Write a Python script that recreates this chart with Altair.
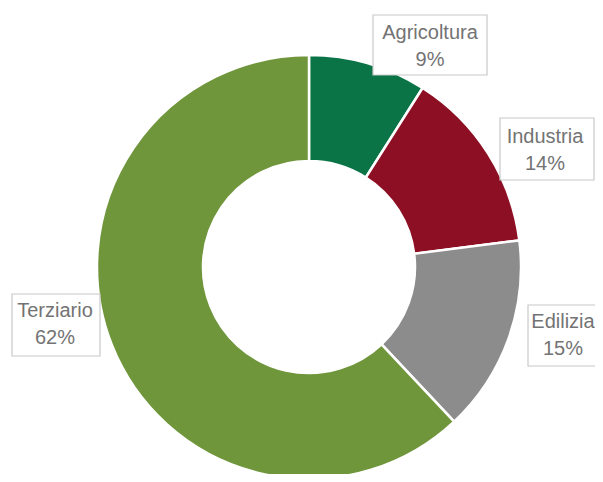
import altair as alt
import pandas as pd

# ---- data ----
sectors = ["Agricoltura", "Industria", "Edilizia", "Terziario"]
shares = [9, 14, 15, 62]
colors = ["#0b7446", "#8c0f23", "#8c8c8c", "#70963c"]

# ---- label annotation layout (chart pixel units) ----
label_x = [422, 537, 555, 47]
label_y = [25, 129, 314, 303]
box_x1 = [365, 492, 520, 4]
box_x2 = [479, 586, 600, 92]
box_y1 = [7, 110, 297, 286]
box_y2 = [67, 172, 358, 348]

W, H = 587, 466
CX, CY = 301, 259
R_OUT, R_IN = 212, 106

df = pd.DataFrame({"settore": sectors, "quota": shares, "ord": list(range(len(sectors)))})
df["label"] = [f"{s}\n{v}%" for s, v in zip(sectors, shares)]

lab = pd.DataFrame({
    "settore": sectors,
    "label": df["label"],
    "lx": label_x, "ly": label_y,
    "bx1": box_x1, "bx2": box_x2, "by1": box_y1, "by2": box_y2,
})

xs = alt.Scale(domain=[0, W], range=[0, W], nice=False, zero=False)
ys = alt.Scale(domain=[0, H], range=[0, H], nice=False, zero=False)

donut = alt.Chart(df).mark_arc(
    outerRadius=R_OUT, innerRadius=R_IN, stroke="white", strokeWidth=2.5
).encode(
    theta=alt.Theta("quota:Q", stack=True),
    color=alt.Color("settore:N", scale=alt.Scale(domain=sectors, range=colors), legend=None),
    order=alt.Order("ord:Q"),
    x=alt.value(CX),
    y=alt.value(CY),
)

boxes = alt.Chart(lab).mark_rect(
    fill="white", stroke="#c8c8c8", strokeWidth=1.2
).encode(
    x=alt.X("bx1:Q", scale=xs, axis=None),
    x2="bx2:Q",
    y=alt.Y("by1:Q", scale=ys, axis=None),
    y2="by2:Q",
)

texts = alt.Chart(lab).mark_text(
    font="Liberation Sans", fontSize=20, color="#737373",
    align="center", baseline="middle", lineBreak="\n", lineHeight=27,
).encode(
    x=alt.X("lx:Q", scale=xs, axis=None),
    y=alt.Y("ly:Q", scale=ys, axis=None),
    text="label:N",
)

chart = alt.layer(donut, boxes, texts).properties(
    width=W, height=H, padding=0, autosize=alt.AutoSizeParams(type="none")
).configure_view(stroke=None)

chart.save("out.html", embed_options={"renderer": "svg", "actions": False})
